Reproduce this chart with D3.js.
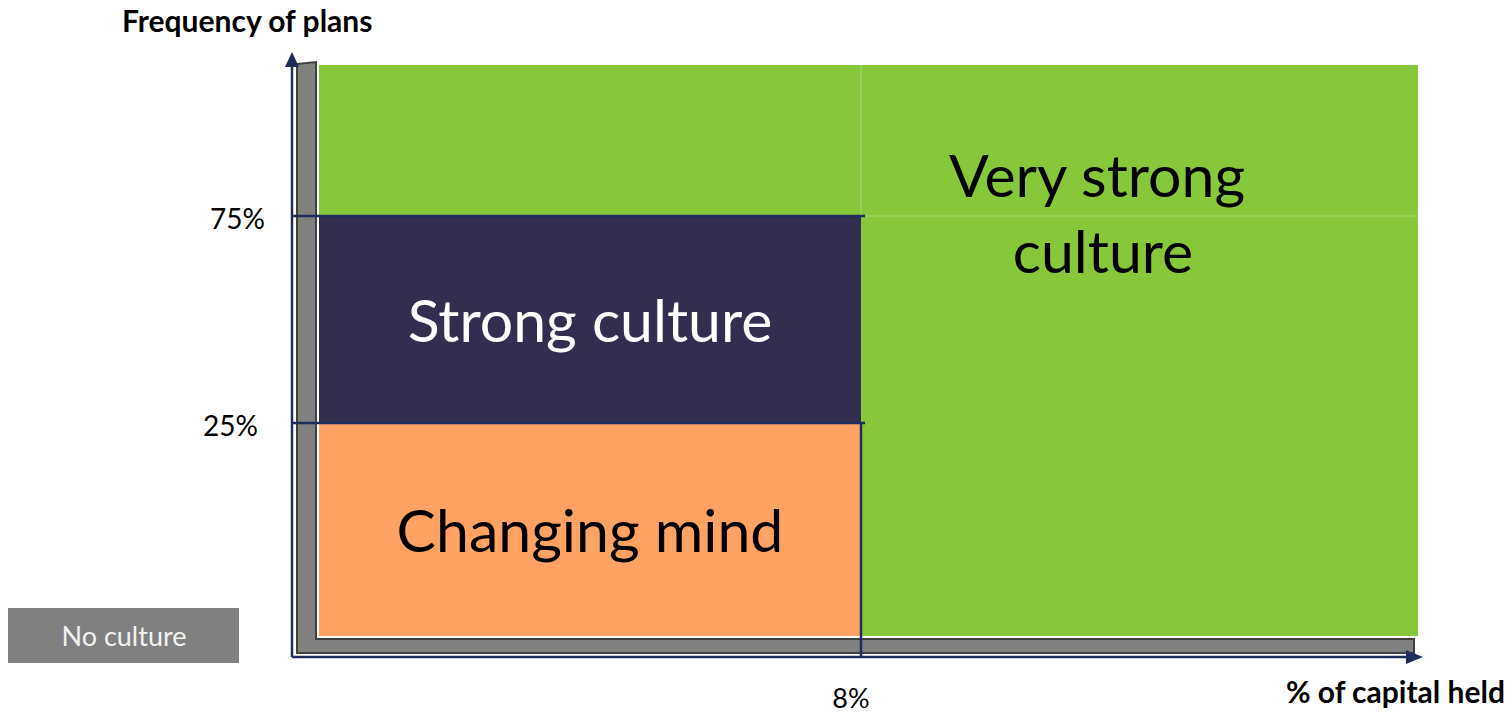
<!DOCTYPE html>
<html>
<head>
<meta charset="utf-8">
<script src="https://cdn.jsdelivr.net/npm/d3@7"></script>
<style>
  body { margin: 0; background: #fff; }
  svg text { font-family: Lato, "Open Sans", sans-serif; }
</style>
</head>
<body>
<div id="chart-area"></div>
<script>
// zones of the culture matrix (x = % of capital held, y = frequency of plans)
var zoneNames = ["Very strong culture", "Strong culture", "Changing mind"]
var zoneX0 = [0, 0, 0]
var zoneX1 = [100, 8, 8]
var zoneY0 = [0, 25, 0]
var zoneY1 = [100, 75, 25]
var zoneColors = ["#86c83a", "#332e50", "#ffa264"]

var xBreaks = [0, 8, 100]
var yBreaks = [0, 25, 75, 100]
var xTickValues = [8]
var xTickLabels = ["8%"]
var yTickValues = [25, 75]
var yTickLabels = ["25%", "75%"]

var width = 1511, height = 716

var svg = d3.select("#chart-area").append("svg")
    .attr("width", width)
    .attr("height", height)

// piecewise scales: the thresholds are not drawn to proportion
var x = d3.scaleLinear().domain(xBreaks).range([319, 861, 1418])
var y = d3.scaleLinear().domain(yBreaks).range([636, 423, 216, 65])

// gray "3D" L-shaped floor / wall
svg.append("path")
    .attr("d", "M297,64 L316,62 L316,639 L1414,639 L1414,653 L297,653 Z")
    .attr("fill", "#808080")
    .attr("stroke", "#404040")
    .attr("stroke-width", 2)

// zones
svg.selectAll("rect.zone")
    .data(zoneNames)
    .enter()
    .append("rect")
    .attr("class", "zone")
    .attr("x", function(d, i){ return x(zoneX0[i]) })
    .attr("y", function(d, i){ return y(zoneY1[i]) })
    .attr("width", function(d, i){ return x(zoneX1[i]) - x(zoneX0[i]) })
    .attr("height", function(d, i){ return y(zoneY0[i]) - y(zoneY1[i]) })
    .attr("fill", function(d, i){ return zoneColors[i] })

// faint seams inside the green area
svg.append("line")
    .attr("x1", x(0)).attr("x2", x(100))
    .attr("y1", y(75)).attr("y2", y(75))
    .attr("stroke", "#a4d66e").attr("stroke-width", 1.2)
svg.append("line")
    .attr("x1", x(8)).attr("x2", x(8))
    .attr("y1", y(100)).attr("y2", y(75))
    .attr("stroke", "#a4d66e").attr("stroke-width", 1.2)

var navy = "#1f2d5c"
var axisX = 292, axisY = 657

// axes
svg.append("line")
    .attr("x1", axisX).attr("x2", axisX)
    .attr("y1", axisY).attr("y2", 64)
    .attr("stroke", navy).attr("stroke-width", 2.5)
svg.append("path")
    .attr("d", "M" + axisX + ",52 L" + (axisX + 7) + ",67 L" + (axisX - 7) + ",67 Z")
    .attr("fill", navy)
svg.append("line")
    .attr("x1", axisX).attr("x2", 1408)
    .attr("y1", axisY).attr("y2", axisY)
    .attr("stroke", navy).attr("stroke-width", 2.5)
svg.append("path")
    .attr("d", "M1423," + axisY + " L1406," + (axisY - 7) + " L1406," + (axisY + 7) + " Z")
    .attr("fill", navy)

// threshold lines
svg.selectAll("line.ythr")
    .data(yTickValues)
    .enter()
    .append("line")
    .attr("x1", axisX).attr("x2", x(8) + 4)
    .attr("y1", function(d){ return y(d) })
    .attr("y2", function(d){ return y(d) })
    .attr("stroke", navy).attr("stroke-width", 2.5)
svg.selectAll("line.xthr")
    .data(xTickValues)
    .enter()
    .append("line")
    .attr("x1", function(d){ return x(d) })
    .attr("x2", function(d){ return x(d) })
    .attr("y1", y(25)).attr("y2", axisY)
    .attr("stroke", navy).attr("stroke-width", 2.5)

// tick labels
svg.selectAll("text.ytick")
    .data(yTickValues)
    .enter()
    .append("text")
    .attr("x", function(d){ return d == 25 ? 258 : 265 })
    .attr("y", function(d){ return y(d) + 13 })
    .attr("text-anchor", "end")
    .attr("font-size", 28)
    .text(function(d, i){ return yTickLabels[i] })
svg.selectAll("text.xtick")
    .data(xTickValues)
    .enter()
    .append("text")
    .attr("x", function(d){ return x(d) - 10 })
    .attr("y", 708)
    .attr("text-anchor", "middle")
    .attr("font-size", 27)
    .text(function(d, i){ return xTickLabels[i] })

// axis titles
svg.append("text")
    .attr("x", 122).attr("y", 32)
    .attr("font-size", 30).attr("font-weight", "bold")
    .text("Frequency of plans")
svg.append("text")
    .attr("x", 1505).attr("y", 703)
    .attr("text-anchor", "end")
    .attr("font-size", 30).attr("font-weight", "bold")
    .text("% of capital held")

// zone labels
svg.append("text")
    .attr("x", 1097).attr("y", 197)
    .attr("text-anchor", "middle").attr("font-size", 59)
    .text("Very strong")
svg.append("text")
    .attr("x", 1103).attr("y", 273)
    .attr("text-anchor", "middle").attr("font-size", 59)
    .text("culture")
svg.append("text")
    .attr("x", (x(0) + x(8)) / 2).attr("y", 342)
    .attr("text-anchor", "middle").attr("font-size", 59)
    .attr("fill", "#fff")
    .text("Strong culture")
svg.append("text")
    .attr("x", (x(0) + x(8)) / 2).attr("y", 552)
    .attr("text-anchor", "middle").attr("font-size", 59)
    .text("Changing mind")

// "No culture" box
svg.append("rect")
    .attr("x", 8).attr("y", 608)
    .attr("width", 231).attr("height", 55)
    .attr("fill", "#808080")
svg.append("text")
    .attr("x", 124).attr("y", 646)
    .attr("text-anchor", "middle").attr("font-size", 27)
    .attr("fill", "#f2f2f2")
    .text("No culture")
</script>
</body>
</html>
